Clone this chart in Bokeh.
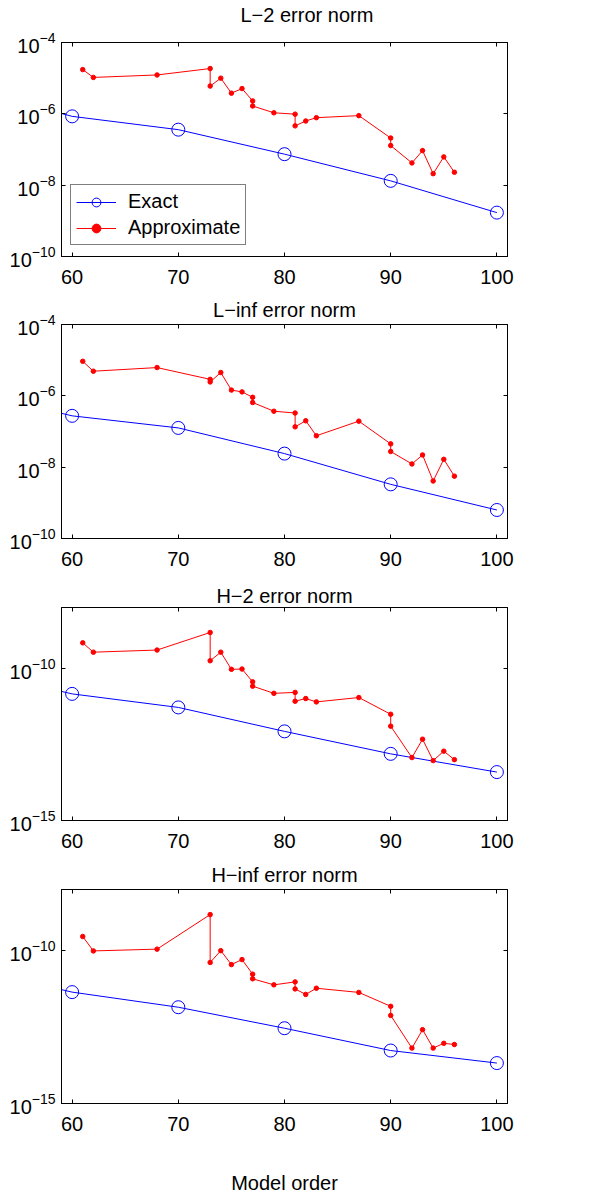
from bokeh.plotting import figure
from bokeh.models import (FixedTicker, CustomJSTickFormatter, LinearAxis, LogAxis,
                          Legend, LegendItem, LogTickFormatter)
from bokeh.layouts import column
from bokeh.embed import file_html
from bokeh.resources import INLINE

# ---------------- data ----------------
titles = ["L\u22122 error norm", "L\u2212inf error norm", "H\u22122 error norm", "H\u2212inf error norm"]
x_ticks = [60, 70, 80, 90, 100]

x_exact = [50, 60, 70, 80, 90, 100]
x_approx = [61, 62, 68, 73, 73, 74, 75, 76, 77, 77, 79, 81, 81, 82, 83, 87, 90, 90, 92, 93, 94, 95, 96]

l2_exact = [5.2e-6, 8.5e-7, 3.6e-7, 7.4e-8, 1.32e-8, 1.7e-9]
l2_approx = [1.74e-5, 1.05e-5, 1.23e-5, 1.86e-5, 6.0e-6, 1.0e-5, 3.8e-6, 5.1e-6, 2.3e-6, 1.66e-6,
             1.07e-6, 9.8e-7, 4.6e-7, 6.3e-7, 7.8e-7, 8.9e-7, 2.1e-7, 1.29e-7, 4.2e-8, 9.3e-8,
             2.1e-8, 6.2e-8, 2.3e-8]

linf_exact = [1.38e-6, 2.75e-7, 1.26e-7, 2.4e-8, 3.3e-9, 6.3e-10]
linf_approx = [9.3e-6, 4.9e-6, 6.2e-6, 2.9e-6, 2.45e-6, 4.5e-6, 1.45e-6, 1.29e-6, 9.1e-7, 6.5e-7,
               3.7e-7, 3.3e-7, 1.35e-7, 2.0e-7, 7.6e-8, 1.95e-7, 4.5e-8, 2.75e-8, 1.23e-8, 2.2e-8,
               4.1e-9, 1.66e-8, 5.6e-9]

h2_exact = [9.3e-11, 1.45e-11, 5.2e-12, 8.5e-13, 1.55e-13, 3.9e-14]
h2_approx = [6.9e-10, 3.4e-10, 4.0e-10, 1.51e-9, 1.78e-10, 3.4e-10, 9.3e-11, 9.5e-11, 3.6e-11, 2.6e-11,
             1.51e-11, 1.62e-11, 8.3e-12, 1.02e-11, 7.9e-12, 1.1e-11, 3.1e-12, 1.26e-12, 1.17e-13, 4.7e-13,
             9.3e-14, 1.9e-13, 1.0e-13]

hinf_exact = [2.8e-11, 4.4e-12, 1.41e-12, 2.9e-13, 5.4e-14, 2.1e-14]
hinf_approx = [2.9e-10, 9.8e-11, 1.12e-10, 1.51e-9, 4.1e-11, 1.0e-10, 3.5e-11, 5.1e-11, 1.7e-11, 1.2e-11,
               7.6e-12, 9.5e-12, 5.6e-12, 3.7e-12, 5.9e-12, 4.3e-12, 1.51e-12, 7.6e-13, 6.5e-14, 2.6e-13,
               6.5e-14, 9.3e-14, 8.5e-14]

y_ranges = [(1e-10, 1e-4), (1e-10, 1e-4), (1e-15, 1e-8), (1e-15, 1e-8)]
y_ticks = [[1e-10, 1e-8, 1e-6, 1e-4], [1e-10, 1e-8, 1e-6, 1e-4], [1e-15, 1e-10], [1e-15, 1e-10]]
exact_series = [l2_exact, linf_exact, h2_exact, hinf_exact]
approx_series = [l2_approx, linf_approx, h2_approx, hinf_approx]

# ---------------- layout ----------------
FONT = "Liberation Sans"
FS = "20px"
borders = [(42, 34), (34, 42), (27, 36), (33, 88)]
title_standoff = [0, 7, 1, 8]

blank_js = "return '';"
space_js = "return ' ';"


def style_axis(ax):
    ax.axis_line_color = "black"
    ax.axis_line_width = 1
    ax.major_tick_in = 4
    ax.major_tick_out = 0
    ax.minor_tick_in = 0
    ax.minor_tick_out = 0
    ax.major_tick_line_color = "black"
    ax.major_label_text_font = FONT
    ax.major_label_text_font_size = FS
    ax.major_label_text_color = "black"


figs = []
for i in range(4):
    top, bottom = borders[i]
    fh = 214 if i != 2 else 213
    p = figure(frame_width=446, frame_height=fh,
               x_range=(59, 101), y_range=y_ranges[i], y_axis_type="log",
               output_backend="svg", toolbar_location=None,
               min_border_left=61, min_border_right=83,
               min_border_top=top, min_border_bottom=bottom)
    p.grid.visible = False
    p.outline_line_color = "black"
    p.background_fill_color = "white"
    p.border_fill_color = "white"

    p.title.text = titles[i]
    p.title.text_font = FONT
    p.title.text_font_size = FS
    p.title.text_font_style = "normal"
    p.title.text_color = "black"
    p.title.standoff = title_standoff[i]
    if i == 0:
        p.title.align = "left"
        p.title.offset = 179
    else:
        p.title.align = "center"

    xa = p.xaxis[0]
    xa.ticker = FixedTicker(ticks=x_ticks, minor_ticks=[])
    style_axis(xa)
    xa.major_label_standoff = 13

    ya = p.yaxis[0]
    ya.ticker = FixedTicker(ticks=y_ticks[i], minor_ticks=[])
    ya.formatter = LogTickFormatter()
    style_axis(ya)
    ya.major_label_standoff = 6

    top_ax = LinearAxis(ticker=FixedTicker(ticks=x_ticks, minor_ticks=[]),
                        formatter=CustomJSTickFormatter(code=space_js if i == 0 else blank_js))
    style_axis(top_ax)
    top_ax.major_label_standoff = 0
    top_ax.major_label_text_font_size = "12px" if i == 0 else "1px"
    p.add_layout(top_ax, "above")

    right_ax = LogAxis(ticker=FixedTicker(ticks=y_ticks[i], minor_ticks=[]),
                       formatter=CustomJSTickFormatter(code=blank_js))
    style_axis(right_ax)
    right_ax.major_label_standoff = 0
    right_ax.major_label_text_font_size = "1px"
    p.add_layout(right_ax, "right")

    l1 = p.line(x_exact, exact_series[i], line_color="blue", line_width=1)
    c1 = p.scatter(x_exact, exact_series[i], marker="circle", size=13,
                   fill_color=None, line_color="blue", line_width=1)
    l2 = p.line(x_approx, approx_series[i], line_color="red", line_width=1)
    c2 = p.scatter(x_approx, approx_series[i], marker="circle", size=4.5,
                   fill_color="red", line_color="red")

    if i == 0:
        legend = Legend(items=[LegendItem(label="Exact", renderers=[l1, c1]),
                               LegendItem(label="Approximate", renderers=[l2, c2])],
                        location=(9, 11))
        legend.label_text_font = FONT
        legend.label_text_font_size = FS
        legend.label_text_color = "black"
        legend.glyph_width = 40
        legend.glyph_height = 22
        legend.label_height = 22
        legend.label_standoff = 12
        legend.padding = 5
        legend.spacing = 3
        legend.margin = 0
        legend.border_line_color = "black"
        legend.border_line_width = 1
        legend.background_fill_color = "white"
        legend.background_fill_alpha = 1
        p.add_layout(legend, "center")

    if i == 3:
        xa.axis_label = "Model order"
        xa.axis_label_text_font = FONT
        xa.axis_label_text_font_size = FS
        xa.axis_label_text_font_style = "normal"
        xa.axis_label_text_color = "black"
        xa.axis_label_standoff = 38

    figs.append(p)

layout = column(*figs, spacing=0)
open("out.html", "w").write(file_html(layout, INLINE))
